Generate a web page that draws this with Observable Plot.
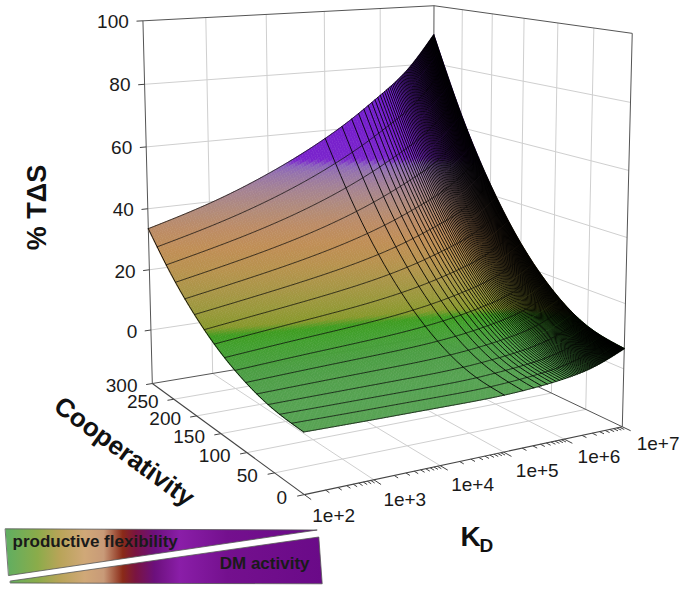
<!DOCTYPE html>
<html>
<head>
<meta charset="utf-8">
<script src="https://cdn.jsdelivr.net/npm/d3@7"></script>
<script src="https://cdn.jsdelivr.net/npm/@observablehq/plot@0.6"></script>
<style>
  html, body { margin: 0; padding: 0; background: #fff; }
  #chart svg { display: block; }
</style>
</head>
<body>
<div id="chart"></div>
<script>
// ---------------- data ----------------
// columns: log10(KD); rows: cooperativity; values: % TΔS
const kdExponents = [2, 3, 4, 5, 5.5, 6, 6.5, 7];
const coopLevels  = [0, 50, 100, 150, 200, 250, 300];
const tdsCoop0   = [-0.5, -0.8, -1.0, -1.0, -0.5,  0.5,  2.5,  6.3];
const tdsCoop50  = [ 0.3,  0.3,  0.3,  0.6,  1.3,  2.4,  4.6,  8.6];
const tdsCoop100 = [ 2.9,  3.7,  4.4,  5.5,  6.6,  8.3, 10.9, 15.6];
const tdsCoop150 = [ 7.4,  9.3, 11.1, 13.6, 15.5, 18.0, 21.5, 27.2];
const tdsCoop200 = [14.0, 17.1, 20.5, 24.9, 27.9, 31.6, 36.2, 43.5];
const tdsCoop250 = [22.7, 27.2, 32.5, 39.5, 43.9, 49.0, 55.2, 64.4];
const tdsCoop300 = [33.5, 39.5, 47.3, 57.3, 63.4, 70.4, 78.4, 90.0];

const zTicks       = [0, 20, 40, 60, 80, 100];
const coopTicks    = [0, 50, 100, 150, 200, 250, 300];
const kdTicks      = [2, 3, 4, 5, 6, 7];
const kdTickLabels = ["1e+2", "1e+3", "1e+4", "1e+5", "1e+6", "1e+7"];
const meshCoopStep = 20;     // constant-cooperativity mesh lines
const meshKdCount  = 100;    // KD mesh lines, linearly spaced in KD

// colour map of the surface (value -> colour)
const colorValues = [-5, 0, 4, 8, 9.8, 11.2, 14, 18, 23, 28, 33, 38, 43, 47, 49.2, 51, 60, 75, 100];
const colorHex    = ["#5ca65c", "#56a252", "#4c9e44", "#42a02e", "#3e9c20", "#88982c", "#98983a",
                     "#a89646", "#b8924e", "#c08e56", "#bc8c66", "#b08a7c", "#a48294", "#9674aa",
                     "#8c64bc", "#7a24cc", "#761ecc", "#7020cf", "#6a1cd4"];
// legend gradient
const legendOffsets = [0, 0.1, 0.17, 0.25, 0.31, 0.37, 0.41, 0.47, 0.55, 0.7, 1];
const legendColors  = ["#5fae62", "#8aac4a", "#b8a458", "#d0a878", "#c89a78", "#8a2a18",
                       "#7a1440", "#6c107c", "#8a1ea8", "#74108e", "#6a0a88"];

// ---------------- 3-D view (box frame as it sits on the page) ----------------
const zMin = -18, zMax = 100;
const norm = (L, c, w) => [(L - 2) / 5, c / 300, (w - zMin) / (zMax - zMin)];
const frame = [
  [2, 300, zMin, 151.7, 382.7],
  [2, 300, 0,    150.3, 330],
  [2, 300, 60,   146.3, 145.7],
  [2, 300, 100,  141.7, 20],
  [3, 300, 100,  205,   18.3],
  [5, 300, 100,  325,   10.8],
  [7, 300, 100,  433,   5],
  [7, 0,   100,  631.7, 32.7],
  [7, 0,   zMin, 621.7, 426.5],
  [2, 0,   zMin, 304,   494]
];
function fitCamera(pts) {
  const S = 500, A = [], b = [];
  for (const [L, c, w, px0, py0] of pts) {
    const [X, Y, Z] = norm(L, c, w), px = px0 / S, py = py0 / S;
    A.push([X, Y, Z, 1, 0, 0, 0, 0, -px * X, -px * Y, -px * Z]); b.push(px);
    A.push([0, 0, 0, 0, X, Y, Z, 1, -py * X, -py * Y, -py * Z]); b.push(py);
  }
  const n = 11, N = Array.from({length: n}, () => new Array(n + 1).fill(0));
  for (let r = 0; r < A.length; r++) for (let i = 0; i < n; i++) {
    for (let j = 0; j < n; j++) N[i][j] += A[r][i] * A[r][j];
    N[i][n] += A[r][i] * b[r];
  }
  for (let i = 0; i < n; i++) {
    let m = i;
    for (let k = i + 1; k < n; k++) if (Math.abs(N[k][i]) > Math.abs(N[m][i])) m = k;
    [N[i], N[m]] = [N[m], N[i]];
    for (let k = 0; k < n; k++) {
      if (k === i) continue;
      const f = N[k][i] / N[i][i];
      for (let j = i; j <= n; j++) N[k][j] -= f * N[i][j];
    }
  }
  const p = N.map((row, i) => row[n] / row[i]);
  return (L, c, w) => {
    const [X, Y, Z] = norm(L, c, w);
    const d = p[8] * X + p[9] * Y + p[10] * Z + 1;
    return [S * (p[0] * X + p[1] * Y + p[2] * Z + p[3]) / d,
            S * (p[4] * X + p[5] * Y + p[6] * Z + p[7]) / d, d];
  };
}
const proj = fitCamera(frame);

// ---------------- smooth surface through the read values ----------------
function naturalSpline(xs, ys) {
  const n = xs.length, h = [], al = [0], l = [1], mu = [0], z = [0];
  for (let i = 0; i < n - 1; i++) h.push(xs[i + 1] - xs[i]);
  for (let i = 1; i < n - 1; i++) al.push(3 / h[i] * (ys[i + 1] - ys[i]) - 3 / h[i - 1] * (ys[i] - ys[i - 1]));
  for (let i = 1; i < n - 1; i++) {
    l[i] = 2 * (xs[i + 1] - xs[i - 1]) - h[i - 1] * mu[i - 1];
    mu[i] = h[i] / l[i];
    z[i] = (al[i] - h[i - 1] * z[i - 1]) / l[i];
  }
  const c = new Array(n).fill(0), bb = [], d = [];
  for (let j = n - 2; j >= 0; j--) {
    c[j] = z[j] - mu[j] * c[j + 1];
    bb[j] = (ys[j + 1] - ys[j]) / h[j] - h[j] * (c[j + 1] + 2 * c[j]) / 3;
    d[j] = (c[j + 1] - c[j]) / (3 * h[j]);
  }
  return x => {
    let j = 0;
    while (j < n - 2 && x > xs[j + 1]) j++;
    const dx = x - xs[j];
    return ys[j] + bb[j] * dx + c[j] * dx * dx + d[j] * dx * dx * dx;
  };
}
const tdsRows = [tdsCoop0, tdsCoop50, tdsCoop100, tdsCoop150, tdsCoop200, tdsCoop250, tdsCoop300];
const rowSplines = tdsRows.map(r => naturalSpline(kdExponents, r));
const colCache = new Map();
function tds(L, c) {
  let f = colCache.get(L);
  if (!f) { f = naturalSpline(coopLevels, rowSplines.map(s => s(L))); colCache.set(L, f); }
  return f(c);
}
const cmap = d3.scaleLinear().domain(colorValues).range(colorHex).interpolate(d3.interpolateRgb).clamp(true);

// far-first ordering
const farIsLarge = proj(7, 300, zMin)[2] > proj(2, 0, zMin)[2];

// fill cells
const nL = 120, nC = 90;
const gridL = d3.range(nL + 1).map(i => 2 + 5 * i / nL);
const gridC = d3.range(nC + 1).map(j => 300 * j / nC);
const cells = [];
for (let i = 0; i < nL; i++) for (let j = 0; j < nC; j++) {
  const corners = [[gridL[i], gridC[j]], [gridL[i + 1], gridC[j]], [gridL[i + 1], gridC[j + 1]], [gridL[i], gridC[j + 1]]]
    .map(([L, c]) => { const w = tds(L, c); return {w, p: proj(L, c, w)}; });
  const vMid = d3.mean(corners, k => k.w);
  cells.push({depth: d3.mean(corners, k => k.p[2]), color: cmap(vMid), pts: corners.map(k => k.p)});
}
cells.sort((a, b) => farIsLarge ? b.depth - a.depth : a.depth - b.depth);
const cellRows = [];
cells.forEach((cell, id) => cell.pts.forEach(p => cellRows.push({id, x: p[0], y: p[1], color: cell.color})));

// mesh lines
const coopMeshRows = [], kdMeshRows = [];
let mid = 0;
const fineL = d3.range(241).map(i => 2 + 5 * i / 240);
for (const c of d3.range(0, 301, meshCoopStep)) {
  for (const L of fineL) { const p = proj(L, c, tds(L, c)); coopMeshRows.push({id: mid, x: p[0], y: p[1]}); }
  mid++;
}
const fineC = d3.range(0, 301, 10);
for (let k = 0; k <= meshKdCount; k++) {
  const L = Math.log10(1e2 + k * (1e7 - 1e2) / meshKdCount);
  for (const c of fineC) { const p = proj(L, c, tds(L, c)); kdMeshRows.push({id: mid, x: p[0], y: p[1]}); }
  mid++;
}

// ---------------- box, grids, axes ----------------
const seg = (a, b) => { const p = proj(...a), q = proj(...b); return {x1: p[0], y1: p[1], x2: q[0], y2: q[1]}; };
const gridSegs = [];
for (const L of [3, 4, 5, 6]) { gridSegs.push(seg([L, 300, zMin], [L, 300, 100])); gridSegs.push(seg([L, 0, zMin], [L, 300, zMin])); }
for (const w of [0, 20, 40, 60, 80]) { gridSegs.push(seg([2, 300, w], [7, 300, w])); gridSegs.push(seg([7, 300, w], [7, 0, w])); }
for (const c of [50, 100, 150, 200, 250]) { gridSegs.push(seg([7, c, zMin], [7, c, 100])); gridSegs.push(seg([2, c, zMin], [7, c, zMin])); }
const backEdges = [
  seg([2, 300, zMin], [2, 300, 100]), seg([7, 300, zMin], [7, 300, 100]), seg([7, 0, zMin], [7, 0, 100]),
  seg([2, 300, 100], [7, 300, 100]), seg([7, 300, 100], [7, 0, 100]),
  seg([2, 300, zMin], [7, 300, zMin]), seg([7, 300, zMin], [7, 0, zMin])
];
const frontEdges = [seg([2, 300, zMin], [2, 0, zMin]), seg([2, 0, zMin], [7, 0, zMin])];
const tickSegs = [];
for (const w of zTicks) tickSegs.push(seg([2, 300, w], [1.9, 300, w]));
for (const c of coopTicks) tickSegs.push(seg([2, c, zMin], [1.9, c, zMin]));
for (const L of kdTicks) tickSegs.push(seg([L, 0, zMin], [L, -11, zMin]));
for (let e = 2; e < 7; e++) for (let m = 2; m <= 9; m++) {
  const L = e + Math.log10(m); tickSegs.push(seg([L, 0, zMin], [L, -6, zMin]));
}
const lab = (text, p) => ({text, x: p[0], y: p[1]});
const zLabels = zTicks.map(w => lab(String(w), proj(2 - 0.22, 300, w)));
const coopLabels = coopTicks.map(c => lab(String(c), proj(2 - 0.24, c, zMin)));
const kdLabels = kdTicks.map((L, i) => lab(kdTickLabels[i], proj(L, -46, zMin)));
const pA = proj(2, 300, zMin), pB = proj(2, 0, zMin);
const coopAngle = Math.atan2(pB[1] - pA[1], pB[0] - pA[0]) * 180 / Math.PI;
const coopTitle = lab("Cooperativity", proj(2 - 1.42, 150, zMin));

// legend shapes
const legendRows = [
  ...[[5, 528.3], [316.7, 529.5], [8.3, 575]].map(([x, y]) => ({id: 0, x, y})),
  ...[[10, 580.5], [318.3, 536.5], [321.7, 583.3], [10, 582.5]].map(([x, y]) => ({id: 1, x, y}))
];

const font = "Liberation Sans, Arial, Helvetica, sans-serif";
const chart = Plot.plot({
  width: 686, height: 590, margin: 0,
  x: {type: "identity", axis: null},
  y: {type: "identity", axis: null},
  color: {type: "identity"},
  style: {background: "#fff", fontFamily: font},
  marks: [
    Plot.link(gridSegs, {x1: "x1", y1: "y1", x2: "x2", y2: "y2", stroke: "#cfcfcf", strokeWidth: 1}),
    Plot.link(backEdges, {x1: "x1", y1: "y1", x2: "x2", y2: "y2", stroke: "#555", strokeWidth: 1}),
    Plot.line(cellRows, {x: "x", y: "y", z: "id", fill: "color", stroke: "color", strokeWidth: 0.6, curve: "linear-closed"}),
    Plot.line(coopMeshRows, {x: "x", y: "y", z: "id", stroke: "#0a0a0a", strokeWidth: 0.85, strokeOpacity: 0.9}),
    Plot.line(kdMeshRows, {x: "x", y: "y", z: "id", stroke: "#000", strokeWidth: 0.95, strokeOpacity: 0.92}),
    Plot.link(frontEdges, {x1: "x1", y1: "y1", x2: "x2", y2: "y2", stroke: "#444", strokeWidth: 1.1}),
    Plot.link(tickSegs, {x1: "x1", y1: "y1", x2: "x2", y2: "y2", stroke: "#444", strokeWidth: 1}),
    Plot.text(zLabels, {x: "x", y: "y", text: "text", textAnchor: "end", lineAnchor: "middle", fontSize: 19, fill: "#1a1a1a"}),
    Plot.text(coopLabels, {x: "x", y: "y", text: "text", textAnchor: "end", lineAnchor: "middle", fontSize: 19, fill: "#1a1a1a"}),
    Plot.text(kdLabels, {x: "x", y: "y", text: "text", textAnchor: "middle", lineAnchor: "middle", fontSize: 19, fill: "#1a1a1a"}),
    Plot.text(["% T\u0394S"], {x: 37, y: 207, rotate: -90, textAnchor: "middle", lineAnchor: "middle", fontSize: 27, fontWeight: "bold", fill: "#111"}),
    Plot.text([coopTitle], {x: "x", y: "y", text: "text", rotate: coopAngle, textAnchor: "middle", lineAnchor: "middle", fontSize: 26, fontWeight: "bold", fill: "#111"}),
    Plot.text(["K"], {x: 460, y: 537, textAnchor: "start", lineAnchor: "middle", fontSize: 28, fontWeight: "bold", fill: "#111"}),
    Plot.text(["D"], {x: 479, y: 545, textAnchor: "start", lineAnchor: "middle", fontSize: 19, fontWeight: "bold", fill: "#111"}),
    Plot.line(legendRows, {x: "x", y: "y", z: "id", fill: "url(#legendGrad)", stroke: "#555", strokeWidth: 0.8, curve: "linear-closed"}),
    Plot.text(["productive flexibility"], {x: 12, y: 541, textAnchor: "start", lineAnchor: "middle", fontSize: 17, fontWeight: "bold", fill: "#1a1a1a"}),
    Plot.text(["DM activity"], {x: 309, y: 563, textAnchor: "end", lineAnchor: "middle", fontSize: 17, fontWeight: "bold", fill: "#1a1a1a"})
  ]
});
const svg = d3.select(chart);
const grad = svg.insert("defs", ":first-child").append("linearGradient")
  .attr("id", "legendGrad").attr("gradientUnits", "userSpaceOnUse")
  .attr("x1", 5).attr("x2", 322).attr("y1", 0).attr("y2", 0);
legendOffsets.forEach((o, i) => grad.append("stop").attr("offset", o).attr("stop-color", legendColors[i]));
document.getElementById("chart").appendChild(chart);
</script>
</body>
</html>
